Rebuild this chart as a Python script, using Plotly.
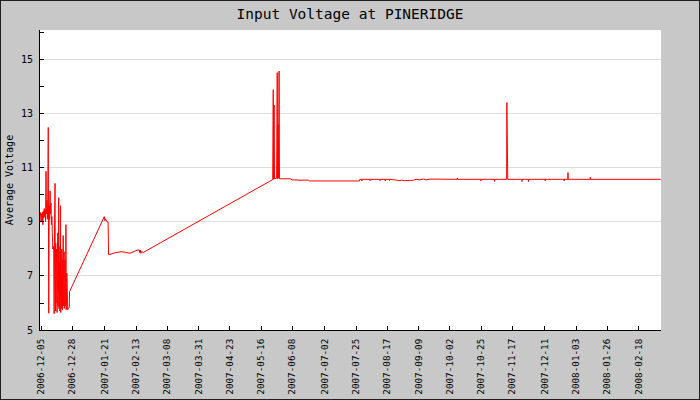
import pandas as pd
import plotly.graph_objects as go

# ---------------- data ----------------
# early noisy section, one reading every 8 hours starting 2006-12-04 20:00
noisy_start = "2006-12-04 20:00"
noisy_values = [
    9.2, 9.35, 9.0, 9.3, 9.05, 9.35, 8.9, 9.4, 9.15, 9.5,
    9.2, 9.45, 9.0, 10.88, 9.3, 9.8, 9.1, 9.75, 12.5, 5.62,
    9.6, 9.1, 10.15, 9.3, 9.7, 8.9, 9.2, 8.6, 8.0, 8.1,
    7.95, 5.6, 9.0, 10.43,
]
# denser part, one reading every 4 hours starting 2006-12-16 00:00
dense_start = "2006-12-16 00:00"
dense_values = [
    6.8, 5.7, 8.2, 6.0, 7.4, 5.8, 8.0, 6.3,
    5.65, 7.6, 6.1, 8.6, 5.9, 7.2, 6.4, 9.9,
    5.8, 8.3, 6.0, 7.5, 5.7, 8.1, 6.2, 9.6,
    5.65, 7.9, 6.3, 7.0, 5.8, 8.0, 6.1, 7.6,
    5.75, 7.3, 6.5, 8.5, 5.9, 7.8, 6.3, 7.9,
    5.8, 7.3, 6.0, 7.6, 5.9, 6.9, 6.2, 8.9,
    5.75, 8.4, 6.0, 7.1, 5.8, 6.6, 5.8, 5.75,
    5.8, 5.8, 5.78, 5.8, 5.82, 5.85, 5.85, 6.42,
]

later_dates = [
    "2007-01-20 10:00", "2007-01-21 02:00", "2007-01-21 12:00", "2007-01-22 00:00",
    "2007-01-22 19:00", "2007-01-23 22:00", "2007-01-24 05:00", "2007-01-25 07:00",
    "2007-01-29 00:00", "2007-02-02 12:00", "2007-02-05 10:00", "2007-02-09 02:00",
    "2007-02-13 12:00", "2007-02-15 17:00", "2007-02-16 07:00", "2007-02-16 16:00",
    "2007-02-17 00:00", "2007-02-17 14:00", "2007-02-18 17:00",
    "2007-05-24 17:00", "2007-05-25 02:00", "2007-05-25 12:00", "2007-05-25 17:00",
    "2007-05-26 03:00", "2007-05-26 10:00", "2007-05-28 00:00", "2007-05-28 10:00",
    "2007-05-28 15:00", "2007-05-29 02:00", "2007-05-29 09:00", "2007-05-29 19:00",
    "2007-05-30 02:00", "2007-06-07 00:00", "2007-06-08 12:00",
    "2007-06-14 06:00", "2007-06-14 10:00", "2007-06-14 14:00",
    "2007-06-20 07:00", "2007-06-21 00:00", "2007-07-28 00:00", "2007-07-28 06:00",
    "2007-07-29 13:00", "2007-07-29 17:00", "2007-07-29 21:00",
    "2007-08-04 15:00", "2007-08-04 19:00", "2007-08-04 23:00",
    "2007-08-12 01:00", "2007-08-12 05:00", "2007-08-12 09:00",
    "2007-08-15 18:00", "2007-08-15 22:00", "2007-08-16 02:00",
    "2007-08-18 22:00", "2007-08-19 02:00", "2007-08-19 06:00",
    "2007-08-24 12:00", "2007-08-26 00:00", "2007-08-28 00:00", "2007-08-30 00:00",
    "2007-09-01 00:00", "2007-09-03 00:00", "2007-09-05 17:00", "2007-09-07 17:00",
    "2007-09-10 00:00", "2007-09-13 00:00", "2007-09-15 00:00", "2007-09-18 00:00",
    "2007-10-07 22:00", "2007-10-08 02:00", "2007-10-08 06:00",
    "2007-10-25 06:00", "2007-10-25 10:00", "2007-10-25 14:00",
    "2007-11-04 06:00", "2007-11-04 10:00", "2007-11-04 14:00",
    "2007-11-13 08:00", "2007-11-13 12:00", "2007-11-13 20:00", "2007-11-14 04:00",
    "2007-11-24 10:00", "2007-11-24 14:00", "2007-11-24 18:00",
    "2007-11-29 06:00", "2007-11-29 10:00", "2007-11-29 14:00",
    "2007-12-11 13:00", "2007-12-11 17:00", "2007-12-11 21:00",
    "2007-12-25 13:00", "2007-12-25 17:00", "2007-12-25 21:00",
    "2007-12-28 08:00", "2007-12-28 12:00", "2007-12-28 16:00",
    "2008-01-13 18:00", "2008-01-13 22:00", "2008-01-14 02:00",
    "2008-03-05 20:00",
]
later_values = [
    9.1, 9.2, 9.05, 9.12,
    9.02, 9.0, 7.8, 7.8,
    7.86, 7.9, 7.88, 7.84,
    7.94, 7.97, 7.86, 7.95,
    7.84, 7.9, 7.87,
    10.54, 10.57, 13.9, 10.58,
    13.33, 10.6, 10.62, 14.53,
    10.6, 12.6, 10.62, 14.59,
    10.6, 10.6, 10.56,
    10.55, 10.52, 10.55,
    10.55, 10.52, 10.52, 10.58,
    10.58, 10.52, 10.58,
    10.58, 10.53, 10.58,
    10.58, 10.53, 10.58,
    10.58, 10.52, 10.58,
    10.58, 10.53, 10.58,
    10.55, 10.53, 10.55, 10.53,
    10.54, 10.53, 10.55, 10.58,
    10.56, 10.59, 10.56, 10.59,
    10.58, 10.63, 10.58,
    10.58, 10.52, 10.58,
    10.58, 10.5, 10.58,
    10.58, 13.42, 12.0, 10.58,
    10.58, 10.5, 10.58,
    10.58, 10.5, 10.58,
    10.58, 10.52, 10.58,
    10.58, 10.52, 10.58,
    10.58, 10.83, 10.58,
    10.58, 10.65, 10.58,
    10.58,
]

tick_labels = [
    "2006-12-05", "2006-12-28", "2007-01-21", "2007-02-13", "2007-03-08",
    "2007-03-31", "2007-04-23", "2007-05-16", "2007-06-08", "2007-07-02",
    "2007-07-25", "2007-08-17", "2007-09-09", "2007-10-02", "2007-10-25",
    "2007-11-17", "2007-12-11", "2008-01-03", "2008-01-26", "2008-02-18",
]

# ---------------- build ----------------
noisy_dates = pd.date_range(noisy_start, periods=len(noisy_values), freq="8h")
dense_dates = pd.date_range(dense_start, periods=len(dense_values), freq="4h")
x = list(noisy_dates) + list(dense_dates) + list(pd.to_datetime(later_dates))
y = noisy_values + dense_values + later_values

tick_vals = [pd.Timestamp(t) + pd.Timedelta(hours=12) for t in tick_labels]

fig = go.Figure()
fig.add_trace(go.Scatter(x=x, y=y, mode="lines",
                         line=dict(color="#ff0000", width=1),
                         showlegend=False))

mono = "DejaVu Sans Mono"
fig.update_layout(
    width=700, height=400,
    margin=dict(l=40, r=39, t=30, b=70, autoexpand=False),
    paper_bgcolor="#c8c8c8",
    plot_bgcolor="#ffffff",
    title=dict(text="Input Voltage at PINERIDGE", x=0.5, xanchor="center",
               y=1 - 14 / 400, yanchor="middle",
               font=dict(family=mono, size=14.5, color="#000000")),
    font=dict(family=mono, color="#000000"),
)
fig.update_xaxes(
    type="date",
    range=["2006-12-04 18:00", "2008-03-06 00:00"],
    tickmode="array", tickvals=tick_vals, ticktext=tick_labels,
    tickangle=-90, tickfont=dict(family=mono, size=9.3, color="#000000"),
    ticks="inside", ticklen=4, tickcolor="#000000",
    showline=True, linecolor="#000000", linewidth=1,
    showgrid=False, zeroline=False, ticklabelstandoff=4,
)
fig.update_yaxes(
    range=[5, 16.11],
    tickmode="linear", tick0=5, dtick=2,
    tickfont=dict(family=mono, size=10, color="#000000"),
    ticks="inside", ticklen=4, tickcolor="#000000",
    minor=dict(dtick=1, tick0=5, ticks="inside", ticklen=4, tickcolor="#000000", showgrid=False),
    showline=True, linecolor="#000000", linewidth=1,
    showgrid=True, gridcolor="#dcdcdc", gridwidth=1,
    zeroline=False, ticklabelstandoff=4,
    title=dict(text="Average Voltage", font=dict(family=mono, size=10, color="#000000"), standoff=5),
)
# outer frame around the whole image
fig.add_shape(type="rect", xref="paper", yref="paper",
              x0=-40 / 621, x1=(700 - 40) / 621,
              y0=(330 - 400) / 300, y1=330 / 300,
              line=dict(color="#202020", width=2), fillcolor="rgba(0,0,0,0)", layer="above")

fig.write_html("out.html")
